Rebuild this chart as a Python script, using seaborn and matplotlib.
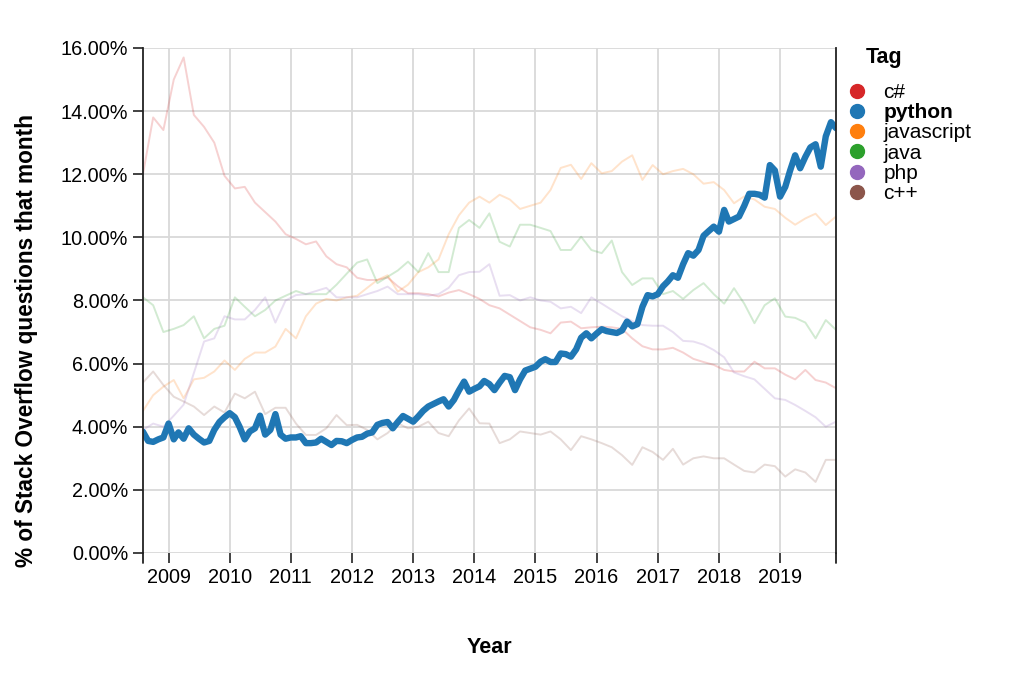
import pandas as pd
import numpy as np
import matplotlib
matplotlib.use('Agg')
import matplotlib.pyplot as plt
import matplotlib.dates as mdates
from matplotlib.ticker import PercentFormatter
from matplotlib.lines import Line2D
import seaborn as sns

# share of Stack Overflow questions per month (percent)
tags = ['c#', 'python', 'javascript', 'java', 'php', 'c++']
colors = {'c#': '#d62728', 'python': '#1f77b4', 'javascript': '#ff7f0e',
          'java': '#2ca02c', 'php': '#9467bd', 'c++': '#8c564b'}

# python: monthly, Aug 2008 - Dec 2019
months = pd.date_range('2008-08-01', '2019-12-01', freq='MS')
python = [3.84, 3.55, 3.52, 3.60, 3.66, 4.10, 3.60, 3.82, 3.62, 3.95,
          3.75, 3.62, 3.50, 3.55, 3.90, 4.15, 4.30, 4.43, 4.30, 4.00,
          3.60, 3.85, 3.95, 4.35, 3.75, 3.90, 4.40, 3.75, 3.62, 3.66,
          3.66, 3.70, 3.48, 3.48, 3.50, 3.62, 3.52, 3.42, 3.55, 3.54,
          3.48, 3.58, 3.66, 3.68, 3.78, 3.82, 4.06, 4.12, 4.15, 3.95,
          4.15, 4.34, 4.25, 4.16, 4.33, 4.50, 4.64, 4.72, 4.80, 4.87,
          4.64, 4.85, 5.15, 5.43, 5.11, 5.20, 5.28, 5.45, 5.35, 5.16,
          5.40, 5.61, 5.57, 5.16, 5.50, 5.78, 5.84, 5.90, 6.06, 6.14,
          6.05, 6.05, 6.32, 6.30, 6.22, 6.45, 6.82, 6.96, 6.80, 6.95,
          7.09, 7.03, 7.00, 6.97, 7.05, 7.33, 7.18, 7.25, 7.80, 8.17,
          8.13, 8.20, 8.45, 8.60, 8.80, 8.72, 9.15, 9.50, 9.42, 9.60,
          10.05, 10.20, 10.34, 10.18, 10.87, 10.50, 10.58, 10.66, 11.00, 11.38,
          11.38, 11.35, 11.26, 12.29, 12.12, 11.29, 11.60, 12.10, 12.60, 12.19,
          12.55, 12.85, 12.95, 12.24, 13.20, 13.65, 13.46]

# the faint tags, read every second month
months2 = pd.date_range('2008-08-01', '2019-12-01', freq='2MS')
csharp = [12.0, 13.8, 13.4, 15.0, 15.7, 13.88, 13.5, 13.0, 11.95, 11.55,
          11.6, 11.1, 10.8, 10.5, 10.1, 9.95, 9.78, 9.87, 9.4, 9.15,
          9.05, 8.72, 8.65, 8.65, 8.73, 8.45, 8.23, 8.23, 8.2, 8.13,
          8.25, 8.33, 8.2, 8.05, 7.85, 7.75, 7.55, 7.35, 7.15, 7.07,
          6.96, 7.3, 7.33, 7.12, 7.15, 7.17, 7.15, 7.1, 6.8, 6.55,
          6.45, 6.45, 6.5, 6.35, 6.15, 6.05, 5.96, 5.8, 5.75, 5.75,
          6.06, 5.85, 5.85, 5.65, 5.5, 5.8, 5.48, 5.4, 5.22]
javascript = [4.5, 5.0, 5.27, 5.48, 4.9, 5.5, 5.55, 5.75, 6.1, 5.8,
              6.15, 6.35, 6.35, 6.54, 7.1, 6.8, 7.5, 7.9, 8.05, 8.0,
              8.1, 8.15, 8.4, 8.65, 8.8, 8.28, 8.5, 8.9, 9.05, 9.3,
              10.1, 10.7, 11.1, 11.29, 11.1, 11.35, 11.2, 10.9, 11.0, 11.1,
              11.5, 12.2, 12.3, 11.85, 12.35, 12.03, 12.1, 12.4, 12.6, 11.82,
              12.29, 12.0, 12.1, 12.17, 12.0, 11.7, 11.75, 11.5, 11.08, 11.3,
              11.2, 10.97, 10.9, 10.62, 10.4, 10.6, 10.75, 10.39, 10.66]
java = [8.1, 7.85, 7.0, 7.1, 7.22, 7.5, 6.8, 7.1, 7.2, 8.1,
        7.8, 7.5, 7.7, 8.0, 8.15, 8.3, 8.2, 8.2, 8.2, 8.5,
        8.85, 9.2, 9.3, 8.55, 8.75, 8.95, 9.23, 8.9, 9.5, 8.9,
        8.9, 10.3, 10.55, 10.3, 10.76, 9.86, 9.71, 10.4, 10.4, 10.3,
        10.2, 9.6, 9.6, 10.02, 9.6, 9.5, 9.9, 8.9, 8.49, 8.7,
        8.7, 8.2, 8.3, 8.05, 8.33, 8.55, 8.2, 7.9, 8.39, 7.9,
        7.28, 7.85, 8.07, 7.49, 7.45, 7.3, 6.8, 7.38, 7.07]
php = [3.9, 4.1, 4.0, 4.35, 4.7, 5.7, 6.7, 6.8, 7.5, 7.4,
       7.4, 7.7, 8.1, 7.3, 8.0, 8.17, 8.2, 8.3, 8.4, 8.1,
       8.1, 8.1, 8.2, 8.3, 8.44, 8.2, 8.2, 8.2, 8.15, 8.2,
       8.4, 8.8, 8.9, 8.91, 9.15, 8.15, 8.17, 8.0, 8.1, 8.0,
       7.96, 7.75, 7.8, 7.6, 8.1, 7.9, 7.7, 7.5, 7.35, 7.22,
       7.2, 7.2, 7.0, 6.72, 6.7, 6.6, 6.43, 6.2, 5.72, 5.6,
       5.5, 5.2, 4.9, 4.85, 4.69, 4.5, 4.3, 4.0, 4.16]
cpp = [5.4, 5.75, 5.32, 4.95, 4.8, 4.64, 4.37, 4.64, 4.45, 5.05,
       4.9, 5.11, 4.4, 4.6, 4.6, 4.1, 3.74, 3.74, 3.95, 4.37,
       4.05, 4.06, 3.9, 3.6, 3.8, 4.11, 3.95, 4.0, 4.16, 3.8,
       3.7, 4.2, 4.58, 4.11, 4.1, 3.48, 3.6, 3.85, 3.8, 3.75,
       3.85, 3.6, 3.26, 3.7, 3.6, 3.48, 3.35, 3.1, 2.79, 3.35,
       3.2, 2.95, 3.3, 2.8, 3.0, 3.06, 3.0, 3.0, 2.8, 2.6,
       2.55, 2.8, 2.75, 2.42, 2.65, 2.55, 2.25, 2.95, 2.95]

faint = pd.concat([
    pd.DataFrame({'Month': months2, 'share': vals, 'Tag': tag})
    for tag, vals in [('c#', csharp), ('javascript', javascript),
                      ('java', java), ('php', php), ('c++', cpp)]
])
py_df = pd.DataFrame({'Month': months, 'share': python, 'Tag': 'python'})

sns.set_theme(style='white')
plt.rcParams['font.family'] = ['Liberation Sans', 'DejaVu Sans']
plt.rcParams['text.color'] = 'black'

fig = plt.figure(figsize=(10.24, 6.76), dpi=100)
ax = fig.add_axes([0.1396, 0.182, 0.6768, 0.747])

sns.lineplot(data=faint, x='Month', y='share', hue='Tag', palette=colors,
             alpha=0.21, linewidth=1.4, legend=False, ax=ax)
sns.lineplot(data=py_df, x='Month', y='share', color=colors['python'],
             linewidth=4.6, legend=False, ax=ax)

ax.set_xlim(months[0], months[-1])
ax.set_ylim(0, 16)
ax.set_yticks(np.arange(0, 17, 2))
ax.yaxis.set_major_formatter(PercentFormatter(xmax=100, decimals=2))
ax.xaxis.set_major_locator(mdates.YearLocator())
ax.xaxis.set_major_formatter(mdates.DateFormatter('%Y'))

ax.grid(True, color='#d9d9d9', linewidth=1.3)
ax.set_axisbelow(True)
ax.tick_params(axis='both', bottom=True, left=True, length=7, width=1.2,
               color='#222222', direction='out', labelsize=14.3, pad=3.5,
               labelcolor='black')

for side in ['top', 'bottom']:
    ax.spines[side].set_visible(False)
for side in ['left', 'right']:
    ax.spines[side].set_color('#222222')
    ax.spines[side].set_linewidth(1.3)
# the domain lines run a little below the plot, down to the tick ends
for xpos in [0, 1]:
    ax.add_line(Line2D([xpos, xpos], [-0.02, 0], transform=ax.transAxes,
                       color='#222222', lw=1.3, clip_on=False))

ax.set_xlabel('Year', fontsize=15.5, fontweight='bold', color='black')
ax.xaxis.set_label_coords(0.5, -0.188)
ax.xaxis.label.set_va('center')
ax.set_ylabel('% of Stack Overflow questions that month', fontsize=16.3,
              fontweight='bold', color='black')
ax.yaxis.set_label_coords(-0.168, 0.42)
ax.yaxis.label.set_va('center')

fig.text(866 / 1024, 1 - 58 / 676, 'Tag', fontsize=15.5, fontweight='bold',
         ha='left', va='center')
handles = [Line2D([], [], marker='o', ls='', markersize=10,
                  color=colors[t]) for t in tags]
leg = ax.legend(handles, tags, loc='upper left',
                bbox_to_anchor=(847 / 1024, 1 - 83 / 676),
                bbox_transform=fig.transFigure, frameon=False, fontsize=15,
                handlelength=1.0, handletextpad=0.75, labelspacing=0.06,
                borderpad=0, borderaxespad=0)
leg.get_texts()[1].set_fontweight('bold')

fig.savefig('out.png', dpi=100)
